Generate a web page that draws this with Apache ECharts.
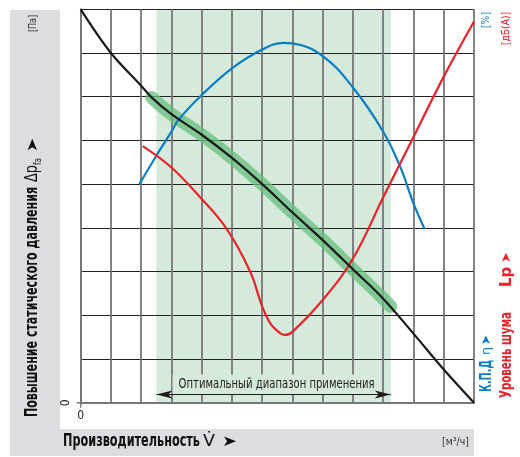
<!DOCTYPE html>
<html><head><meta charset="utf-8">
<script src="https://cdn.jsdelivr.net/npm/echarts@6/dist/echarts.min.js"></script>
<style>html,body{margin:0;padding:0;background:#fff}#c{width:520px;height:457px}</style>
</head><body><div id="c"></div>
<script>
// Flow (grid units along x: 0..13), values in grid units along y (0..9)
const pressureCurve = [[0,9],[1,8],[2,7.25],[2.35,6.98],[3,6.6],[4,6.13],[5,5.6],[6,5.0],[7,4.35],[8,3.72],[9,3.05],[10,2.38],[11,1.58],[12,0.76],[13,0]];
const optimalPressure = [[2.35,6.98],[3,6.6],[4,6.13],[5,5.6],[6,5.0],[7,4.35],[8,3.72],[9,3.05],[10,2.38],[10.25,2.2]];
const efficiencyCurve = [[1.94,5.0],[2.5,5.65],[3,6.2],[3.23,6.47],[4,7.04],[5,7.65],[6,8.08],[6.7,8.23],[7,8.22],[8,7.93],[9,7.21],[10,6.2],[10.56,5.4],[11,4.56],[11.37,3.97]];
const noiseCurve = [[2.05,5.87],[3,5.38],[4,4.66],[4.83,3.97],[5.6,3.0],[6,2.2],[6.26,1.82],[6.59,1.59],[6.75,1.55],[7,1.62],[8,2.35],[9,3.3],[10,4.7],[11,6.08],[12,7.46],[13,8.72]];
const optimalRange = [2.5, 10.25];
const optimalArrowLevel = 0.19;
const optimalLabel = 'Оптимальный диапазон применения';
const xMax = 13, yMax = 9;

const F = "'DejaVu Sans Condensed','DejaVu Sans',sans-serif";
const BLUE = '#0a7ec4', RED = '#e8232b', GREEN_BG = '#d6eadb';

const mctx = document.createElement('canvas').getContext('2d');
function measure(text, size, weight){ mctx.font = (weight||'normal') + ' ' + size + 'px ' + F; return mctx.measureText(text).width; }
// text fitted to a given length (horizontal or rotated to read bottom-to-top)
function T(text, x, y, size, weight, color, len, rotated, extra){
  const s = len / measure(text, size, weight);
  return Object.assign({type:'text', x:x, y:y, z:20, rotation: rotated ? Math.PI/2 : 0, scaleX:s, scaleY:1,
    style:{text:text, align:'left', verticalAlign:'middle', fontFamily:F, fontSize:size, fontWeight:weight||'normal', fill:color}}, extra||{});
}

const chart = echarts.init(document.getElementById('c'), null, {renderer:'canvas'});
chart.setOption({
  animation:false,
  backgroundColor:'#fff',
  grid:{left:80.7, top:9.3, right:46, bottom:54.3},
  xAxis:{type:'value', min:0, max:xMax, interval:1,
    axisLine:{show:true, onZero:false, lineStyle:{color:'#777', width:2}},
    axisTick:{show:false},
    axisLabel:{show:true, formatter:v=>v===0?'0':'', margin:7, fontFamily:F, fontSize:12, color:'#222'},
    splitLine:{show:true, lineStyle:{color:'#777', width:1.8}}},
  yAxis:{type:'value', min:0, max:yMax, interval:1,
    axisLine:{show:true, onZero:false, lineStyle:{color:'#777', width:2}},
    axisTick:{show:false},
    axisLabel:{show:true, formatter:v=>v===0?'0':'', rotate:90, margin:9, fontFamily:F, fontSize:12, color:'#222'},
    splitLine:{show:true, lineStyle:{color:'#222', width:1}}},
  series:[
    {type:'line', z:-1, data:[], silent:true,
      markArea:{z:-1, silent:true, itemStyle:{color:GREEN_BG}, data:[[{xAxis:optimalRange[0]},{xAxis:optimalRange[1]}]]}},
    {type:'line', z:3, data:optimalPressure, smooth:0.4, symbol:'none', silent:true,
      lineStyle:{color:'rgba(100,190,125,0.75)', width:13, cap:'round', join:'round'}},
    {type:'line', z:4, data:efficiencyCurve, smooth:0.4, symbol:'none', lineStyle:{color:BLUE, width:2.2}},
    {type:'line', z:4, data:noiseCurve, smooth:0.4, symbol:'none', lineStyle:{color:RED, width:2.2}},
    {type:'line', z:5, data:pressureCurve, smooth:0.35, symbol:'none', lineStyle:{color:'#1a1a1a', width:2.2},
      markLine:{silent:true, symbol:['arrow','arrow'], symbolSize:[6,16],
        lineStyle:{color:'#1a1a1a', width:1, type:'solid'}, label:{show:false},
        data:[[{coord:[optimalRange[0],optimalArrowLevel]},{coord:[optimalRange[1],optimalArrowLevel]}]]}}
  ]
});

// layout-dependent decorations
const p0 = chart.convertToPixel({gridIndex:0}, [0,0]);
const pA = chart.convertToPixel({gridIndex:0}, [optimalRange[0], optimalArrowLevel]);
const pB = chart.convertToPixel({gridIndex:0}, [optimalRange[1], optimalArrowLevel]);
const midX = (pA[0]+pB[0])/2 + 3;
const g = [
  {type:'rect', z:-100, shape:{x:10,y:10,width:50,height:446}, style:{fill:'#dcdde0'}},
  {type:'rect', z:-100, shape:{x:10,y:429,width:464,height:27}, style:{fill:'#dcdde0'}},
  // axis zero ticks
  {type:'line', z:10, shape:{x1:p0[0], y1:p0[1], x2:p0[0], y2:p0[1]+5}, style:{stroke:'#777', lineWidth:1.5}},
  {type:'line', z:10, shape:{x1:p0[0]-4, y1:p0[1], x2:p0[0], y2:p0[1]}, style:{stroke:'#777', lineWidth:1.5}},
  // label box for optimum range
  {type:'rect', z:2, shape:{x:midX-104, y:pA[1]-20, width:208, height:20}, style:{fill:GREEN_BG}},
  T(optimalLabel, midX-98, pA[1]-10, 14, 'normal', '#222', 196, false),
  // left title
  T('Повышение статического давления', 33, 417, 17, 'bold', '#111', 230, true),
  T('Δp', 33, 182, 17, 'normal', '#111', 17, true),
  T('fa', 38, 165, 10, 'normal', '#111', 7, true),
  T('➤', 33, 152, 15, 'normal', '#111', 14, true),
  T('[Па]', 33, 32, 11, 'normal', '#333', 17, true),
  // bottom title
  T('Производительность', 63, 442, 17, 'bold', '#111', 137, false),
  T('V̇', 203, 442, 16, 'normal', '#111', 12, false),
  T('➤', 222, 442, 15, 'normal', '#111', 15, false),
  T('[м³/ч]', 442, 442, 11, 'normal', '#333', 27, false),
  // right titles
  T('[%]', 486, 28, 11, 'normal', BLUE, 16, true),
  T('[дБ(А)]', 506, 45, 11, 'normal', RED, 33, true),
  T('К.П.Д', 487, 392, 16, 'bold', BLUE, 32, true),
  T('η', 487, 355, 12, 'normal', BLUE, 8, true),
  T('➤', 487, 345, 13, 'normal', BLUE, 10, true),
  T('Уровень шума', 507, 398, 16, 'bold', RED, 86, true),
  T('Lp', 507, 287, 16, 'bold', RED, 20, true),
  T('➤', 507, 263, 13, 'normal', RED, 11, true)
];
chart.setOption({graphic:g});
</script></body></html>
